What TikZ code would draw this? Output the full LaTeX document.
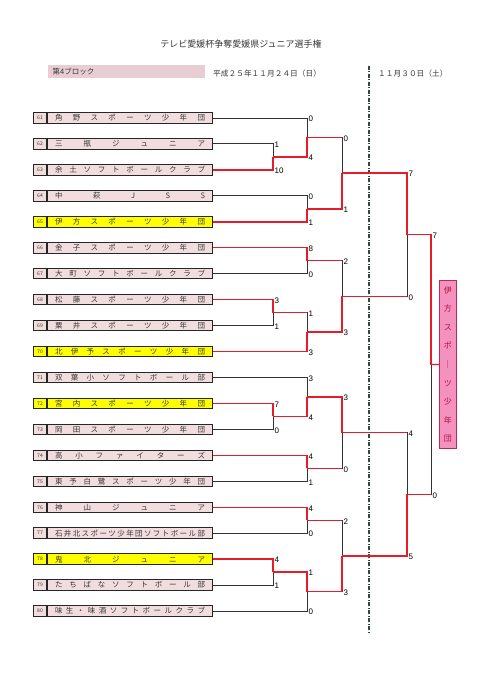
\documentclass[tikz,border=0pt]{standalone}
\usepackage{fontspec}
\setmainfont{Liberation Sans}
\newfontfamily\cjk{Noto Sans CJK JP}
\usetikzlibrary{calc}
\definecolor{teampink}{RGB}{242,221,222}
\definecolor{teamyellow}{RGB}{255,255,0}
\definecolor{hdrpink}{RGB}{232,205,210}
\definecolor{winred}{RGB}{232,28,40}
\definecolor{champpink}{RGB}{245,145,190}
\definecolor{champedge}{RGB}{190,40,80}
\definecolor{champtext}{RGB}{170,20,60}
\definecolor{divcol}{RGB}{45,75,60}
\definecolor{txtgray}{RGB}{55,55,55}
\def\distrib#1{\expandafter\distB#1\relax}
\def\distB#1{#1\distC}
\def\distC#1{\ifx\relax#1\else\hfill#1\expandafter\distC\fi}
\tikzset{
  namebox/.style={draw=black!85, line width=1pt, minimum width=165pt, minimum height=10.5pt, inner sep=0pt,
    font=\cjk\fontsize{7.5}{8}\selectfont, text=txtgray},
  numbox/.style={draw=black!85, line width=1pt, minimum width=13pt, minimum height=10.5pt, inner sep=0pt,
    font=\cjk\fontsize{5}{5}\selectfont, text=txtgray},
  loseline/.style={draw=black!80, line width=0.9pt},
  winline/.style={draw=winred, line width=1.4pt},
  score/.style={anchor=west, inner sep=0pt, xshift=1.5pt, yshift=-1pt, font=\fontsize{8}{9}\selectfont},
  divline/.style={draw=divcol, line width=1.1pt, dash pattern=on 4pt off 1.5pt on 1pt off 1.5pt},
  hdrtext/.style={font=\cjk\fontsize{7.7}{9}\selectfont, text=txtgray, inner sep=0pt}
}
% #1 top src, #2 bottom src, #3 x coord, #4 winner t/b, #5 mid name, #6 top score, #7 bottom score
\newcommand\bmatch[7]{%
  \coordinate (#5t) at (#1 -| #3);
  \coordinate (#5b) at (#2 -| #3);
  \coordinate (#5) at ($(#5t)!0.5!(#5b)$);
  \if t#4
    \draw[loseline] (#2) -- (#5b) -- (#5);
    \draw[winline] (#1) -- (#5t) -- (#5);
  \else
    \draw[loseline] (#1) -- (#5t) -- (#5);
    \draw[winline] (#2) -- (#5b) -- (#5);
  \fi
  \node[score] (#5st) at (#5t) {#6};
  \node[score] (#5sb) at (#5b) {#7};
}
\begin{document}
\begin{tikzpicture}[x=1pt,y=-1pt]
\useasboundingbox (0,0) rectangle (480,679);
\fill[white] (0,0) rectangle (480,679);
% header
\node[font=\cjk\fontsize{9}{10}\selectfont, text=txtgray] (title) at (241,44) {テレビ愛媛杯争奪愛媛県ジュニア選手権};
\node[fill=hdrpink, anchor=west, text width=148pt, inner xsep=4.5pt, minimum height=13pt, inner ysep=0pt,
      font=\cjk\fontsize{7.5}{9}\selectfont, text=txtgray] (blk) at (48,71.5) {第4ブロック};
\node[hdrtext, anchor=west] (d1) at (213,73.5) {平成２５年１１月２４日（日）};
\node[hdrtext, anchor=west] (d2) at (378,73.5) {１１月３０日（土）};
% divider
\coordinate (dtop) at (369,66);
\coordinate (dbot) at (369,632);
\draw[divline] (dtop) -- (dbot);
% teams
\foreach \i/\name/\fc in {
  61/角野スポーツ少年団/teampink,
  62/三瓶ジュニア/teampink,
  63/余土ソフトボールクラブ/teampink,
  64/中萩JSS/teampink,
  65/伊方スポーツ少年団/teamyellow,
  66/金子スポーツ少年団/teampink,
  67/大町ソフトボールクラブ/teampink,
  68/松藤スポーツ少年団/teampink,
  69/粟井スポーツ少年団/teampink,
  70/北伊予スポーツ少年団/teamyellow,
  71/双葉小ソフトボール部/teampink,
  72/宮内スポーツ少年団/teamyellow,
  73/岡田スポーツ少年団/teampink,
  74/高小ファイターズ/teampink,
  75/東予白鷺スポーツ少年団/teampink,
  76/神山ジュニア/teampink,
  77/石井北スポーツ少年団ソフトボール部/teampink,
  78/鬼北ジュニア/teamyellow,
  79/たちばなソフトボール部/teampink,
  80/味生・味酒ソフトボールクラブ/teampink}{
  \pgfmathsetmacro\yy{118+(\i-61)*25.95}
  \node[namebox, fill=\fc, anchor=west] (t\i) at (47,\yy) {\makebox[150pt]{\distrib{\name}}};
  \node[numbox, fill=\fc, anchor=east] (n\i) at (t\i.west) {\i};
}
% x levels
\coordinate (x1) at (273,0);
\coordinate (x2) at (307,0);
\coordinate (x3) at (342,0);
\coordinate (x4) at (407,0);
\coordinate (x5) at (431,0);
% group 1
\bmatch{t62.east}{t63.east}{x1}{b}{a1}{1}{10}
\bmatch{t61.east}{a1}{x2}{b}{a2}{0}{4}
\bmatch{t64.east}{t65.east}{x2}{b}{a3}{0}{1}
\bmatch{a2}{a3}{x3}{b}{a4}{0}{1}
% group 2
\bmatch{t66.east}{t67.east}{x2}{t}{b1}{8}{0}
\bmatch{t68.east}{t69.east}{x1}{t}{b2}{3}{1}
\bmatch{b2}{t70.east}{x2}{b}{b3}{1}{3}
\bmatch{b1}{b3}{x3}{b}{b4}{2}{3}
% semi 1
\bmatch{a4}{b4}{x4}{t}{s1}{7}{0}
% group 3
\bmatch{t72.east}{t73.east}{x1}{t}{c1}{7}{0}
\bmatch{t71.east}{c1}{x2}{b}{c2}{3}{4}
\bmatch{t74.east}{t75.east}{x2}{t}{c3}{4}{1}
\bmatch{c2}{c3}{x3}{t}{c4}{3}{0}
% group 4
\bmatch{t76.east}{t77.east}{x2}{t}{e1}{4}{0}
\bmatch{t78.east}{t79.east}{x1}{t}{e2}{4}{1}
\bmatch{e2}{t80.east}{x2}{t}{e3}{1}{0}
\bmatch{e1}{e3}{x3}{b}{e4}{2}{3}
% semi 2
\bmatch{c4}{e4}{x4}{b}{s2}{4}{5}
% final
\bmatch{s1}{s2}{x5}{t}{f}{7}{0}
% every winner line carried into the next round is red
\draw[winline] (a1) -- (a2b);
\draw[winline] (a2) -- (a4t);
\draw[winline] (a3) -- (a4b);
\draw[winline] (b1) -- (b4t);
\draw[winline] (b2) -- (b3t);
\draw[winline] (b3) -- (b4b);
\draw[winline] (a4) -- (s1t);
\draw[winline] (b4) -- (s1b);
\draw[winline] (c1) -- (c2b);
\draw[winline] (c2) -- (c4t);
\draw[winline] (c3) -- (c4b);
\draw[winline] (e1) -- (e4t);
\draw[winline] (e2) -- (e3t);
\draw[winline] (e3) -- (e4b);
\draw[winline] (c4) -- (s2t);
\draw[winline] (e4) -- (s2b);
\draw[winline] (s1) -- (ft);
\draw[winline] (s2) -- (fb);
% champion
\node[draw=champedge, line width=0.8pt, fill=champpink, minimum width=17pt, minimum height=168pt, inner sep=0pt,
      text=champtext, align=center, font=\cjk\fontsize{8}{18.6}\selectfont, anchor=west] (champ) at (439,364.5)
      {伊\\方\\ス\\ポ\\｜\\ツ\\少\\年\\団};
\draw[winline] (f) -- (champ.west);
\end{tikzpicture}
\end{document}
